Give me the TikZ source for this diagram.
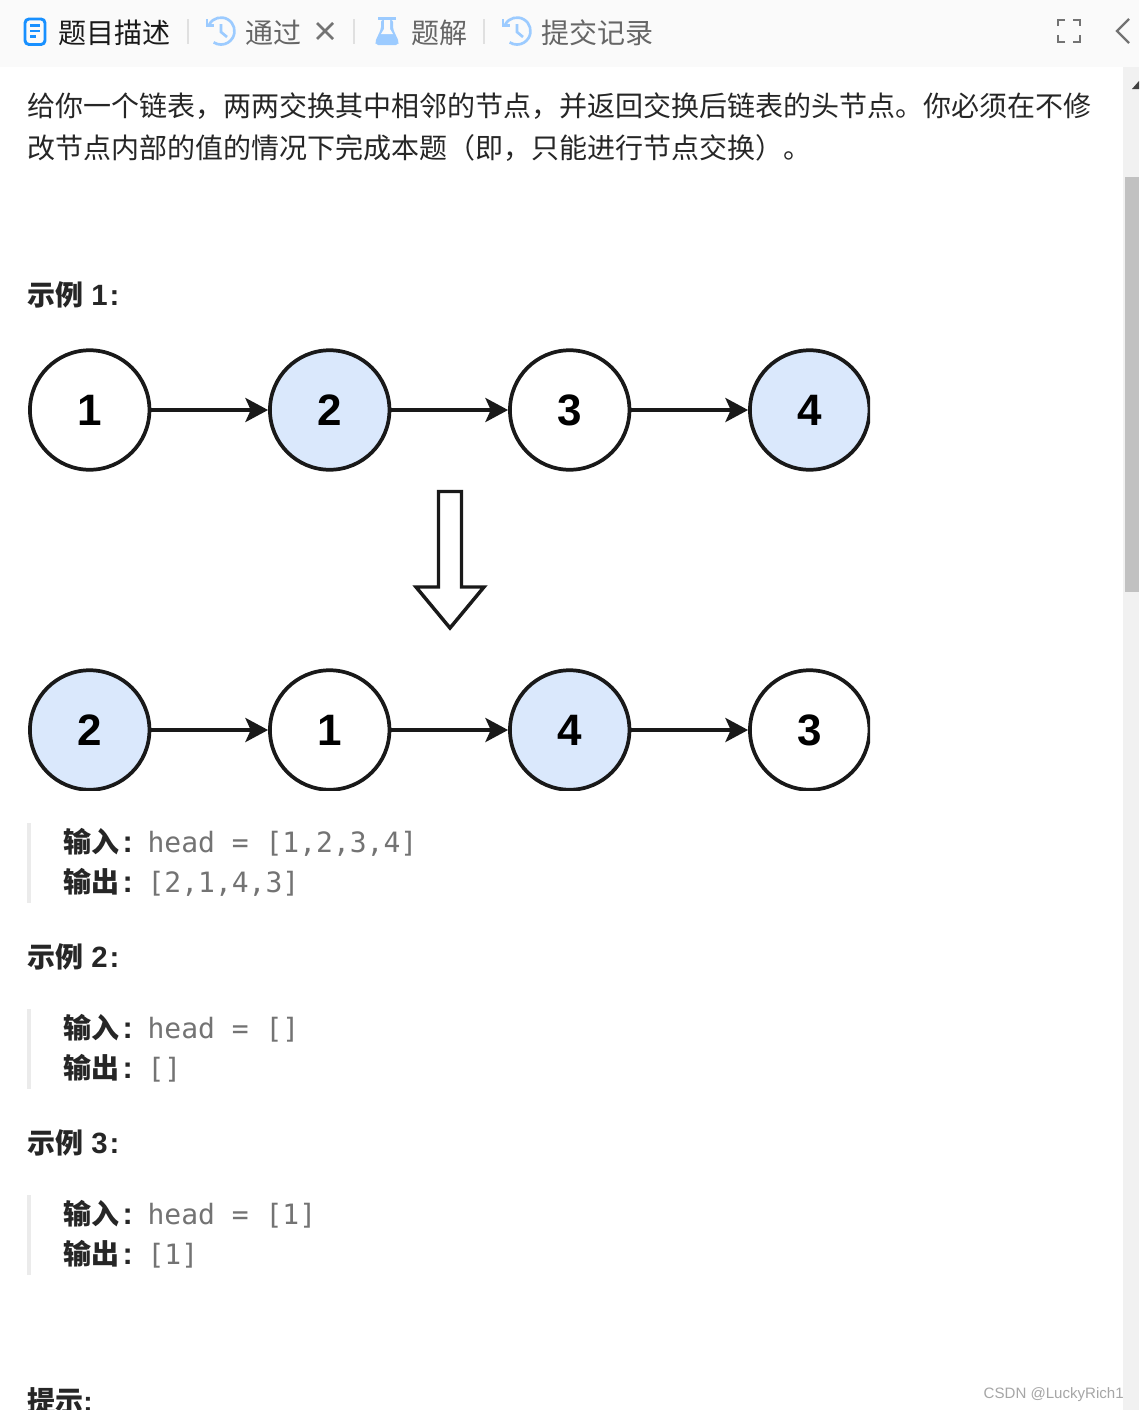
\documentclass[tikz,border=0pt]{standalone}
\usepackage{fontspec}
\setmainfont{Noto Sans CJK SC}
\newfontfamily\latinfont{Liberation Sans}
\newfontfamily\codefont{DejaVu Sans Mono}
\usepackage{tikz}
\usetikzlibrary{arrows.meta}
\definecolor{headerbg}{HTML}{FAFAFA}
\definecolor{scrollbg}{HTML}{F1F1F1}
\definecolor{scrollthumb}{HTML}{C1C1C1}
\definecolor{tabblue}{HTML}{1890FF}
\definecolor{iconblue}{HTML}{9CCBFF}
\definecolor{nodeblue}{HTML}{DAE8FC}
\tikzset{listnode/.style = {circle, draw=black!90, line width = 2.8, minimum size = 119.5*0.75pt, inner sep = 0, font=\latinfont\bfseries\fontsize{33}{33}\selectfont}}
\tikzset{bluenode/.style = {listnode, fill=nodeblue}}
\tikzset{linkarrow/.style = {-{Stealth[length=17pt, width=18pt, inset=4pt]}, black!90, line width = 2.8}}
\tikzset{bodytext/.style = {anchor=base west, inner sep=0, text=black!85, font=\fontsize{21}{21}\selectfont}}
\tikzset{tabtext/.style = {bodytext, text=black!60}}
\tikzset{exampletitle/.style = {bodytext, font=\bfseries\fontsize{21}{21}\selectfont}}
\tikzset{codeline/.style = {bodytext, text=black!55, font=\codefont\fontsize{21}{21}\selectfont}}
\tikzset{quotebar/.style = {fill=black!8, draw=none}}
\newcommand{\boldkey}[1]{{\color{black!85}\rmfamily\bfseries #1\hspace{2.6pt}{\latinfont\fontsize{23}{23}\selectfont:}\hspace{11pt}}}
\newcommand{\exampletag}[1]{示例{\latinfont\fontsize{22}{22}\selectfont\ #1\hspace{1.5pt}:}}
\newcommand{\clockicon}[2]{
	\draw[iconblue, line width = 2] (#1-11.7,#2-6.7) arc (-150:123:13.5);
	\draw[iconblue, line width = 2] (#1-14,#2-12) -- (#1-14,#2-5.5) -- (#1-7.5,#2-5.5);
	\draw[iconblue, line width = 2] (#1,#2-7) -- (#1,#2+1) -- (#1+6,#2+6);
}
\begin{document}
\begin{tikzpicture}[x=0.75pt, y=-0.75pt]
	\useasboundingbox (0,0) rectangle (1139,1410);
	\fill[white] (0,0) rectangle (1139,1410);

	% Header
	\fill[headerbg] (0,0) rectangle (1139,67);
	\foreach \i in {188,354,484}
	{
		\draw[black!12, line width = 1.5] (\i,19) -- (\i,44);
	}
	\draw[tabblue, line width = 2.2, rounded corners=3] (25,19) rectangle (45,44.5);
	\draw[tabblue, line width = 2] (30,25.5) -- (40,25.5) (30,31) -- (40,31) (30,36.5) -- (36,36.5);
	\node[bodytext, text=black!90] (tabdesc) at (58,43) {题目描述};
	\clockicon{221}{31}
	\node[tabtext] (tabpass) at (245,43) {通过};
	\draw[black!55, line width = 2] (317,23) -- (333,39) (333,23) -- (317,39);
	\fill[iconblue, rounded corners=1.5] (381,20) -- (381,29) -- (375,42) -- (376,45) -- (398,45) -- (399,42) -- (393,29) -- (393,20) -- cycle;
	\fill[iconblue] (378,17) rectangle (396,20);
	\fill[headerbg] (384,20) -- (390,20) -- (390,29) -- (393,34) -- (381,34) -- (384,29) -- cycle;
	\node[tabtext] (tabsol) at (411,43) {题解};
	\clockicon{517}{31}
	\node[tabtext] (tabrec) at (541,43) {提交记录};
	\draw[black!55, line width = 1.9] (1058,26) -- (1058,20) -- (1065,20) (1073,20) -- (1080,20) -- (1080,26) (1080,35) -- (1080,42) -- (1073,42) (1065,42) -- (1058,42) -- (1058,35);
	\draw[black!55, line width = 1.8] (1129,19) -- (1117,31) -- (1129,43);

	% Scrollbar
	\fill[scrollbg] (1123,67) rectangle (1139,1410);
	\fill[scrollthumb] (1125,177) rectangle (1139,592);
	\fill[black!75] (1132,89) -- (1139,81) -- (1139,89) -- cycle;

	% Description
	\node[bodytext] (descone) at (27,116) {给你一个链表，两两交换其中相邻的节点，并返回交换后链表的头节点。你必须在不修};
	\node[bodytext] (desctwo) at (27,158.5) {改节点内部的值的情况下完成本题（即，只能进行节点交换）。};

	% Example 1
	\node[exampletitle] (titleone) at (27,305.5) {\exampletag{1}};
	\begin{scope}
		\clip (27,345) rectangle (870,790.5);
		\node[listnode] (topa) at (89.7,410) {1};
		\node[bluenode] (topb) at (329.7,410) {2};
		\node[listnode] (topc) at (569.7,410) {3};
		\node[bluenode] (topd) at (809.7,410) {4};
		\draw[linkarrow] (topa) -- (topb);
		\draw[linkarrow] (topb) -- (topc);
		\draw[linkarrow] (topc) -- (topd);
		\node[bluenode] (bota) at (89.7,730) {2};
		\node[listnode] (botb) at (329.7,730) {1};
		\node[bluenode] (botc) at (569.7,730) {4};
		\node[listnode] (botd) at (809.7,730) {3};
		\draw[linkarrow] (bota) -- (botb);
		\draw[linkarrow] (botb) -- (botc);
		\draw[linkarrow] (botc) -- (botd);
	\end{scope}
	\draw[black!90, line width = 2.6, fill=white, line join=miter] (438.5,491.5) -- (461.5,491.5) -- (461.5,587) -- (484,587) -- (450,628) -- (416,587) -- (438.5,587) -- cycle;

	\fill[quotebar] (27,823) rectangle (31,903);
	\node[codeline] (inone) at (63,852.5) {\boldkey{输入}head = [1,2,3,4]};
	\node[codeline] (outone) at (63,892.5) {\boldkey{输出}[2,1,4,3]};

	% Example 2
	\node[exampletitle] (titletwo) at (27,967.5) {\exampletag{2}};
	\fill[quotebar] (27,1009) rectangle (31,1089);
	\node[codeline] (intwo) at (63,1038.5) {\boldkey{输入}head = []};
	\node[codeline] (outtwo) at (63,1078.5) {\boldkey{输出}[]};

	% Example 3
	\node[exampletitle] (titlethree) at (27,1153.5) {\exampletag{3}};
	\fill[quotebar] (27,1195) rectangle (31,1275);
	\node[codeline] (inthree) at (63,1224.5) {\boldkey{输入}head = [1]};
	\node[codeline] (outthree) at (63,1264.5) {\boldkey{输出}[1]};

	% Hint
	\node[exampletitle] (titlehint) at (27,1411) {提示{\latinfont:}};

	% Watermark
	\node[bodytext, text=black!35, font=\latinfont\fontsize{11.3}{11.3}\selectfont, anchor=base east] (mark) at (1124,1398) {CSDN @LuckyRich1};
\end{tikzpicture}
\end{document}
